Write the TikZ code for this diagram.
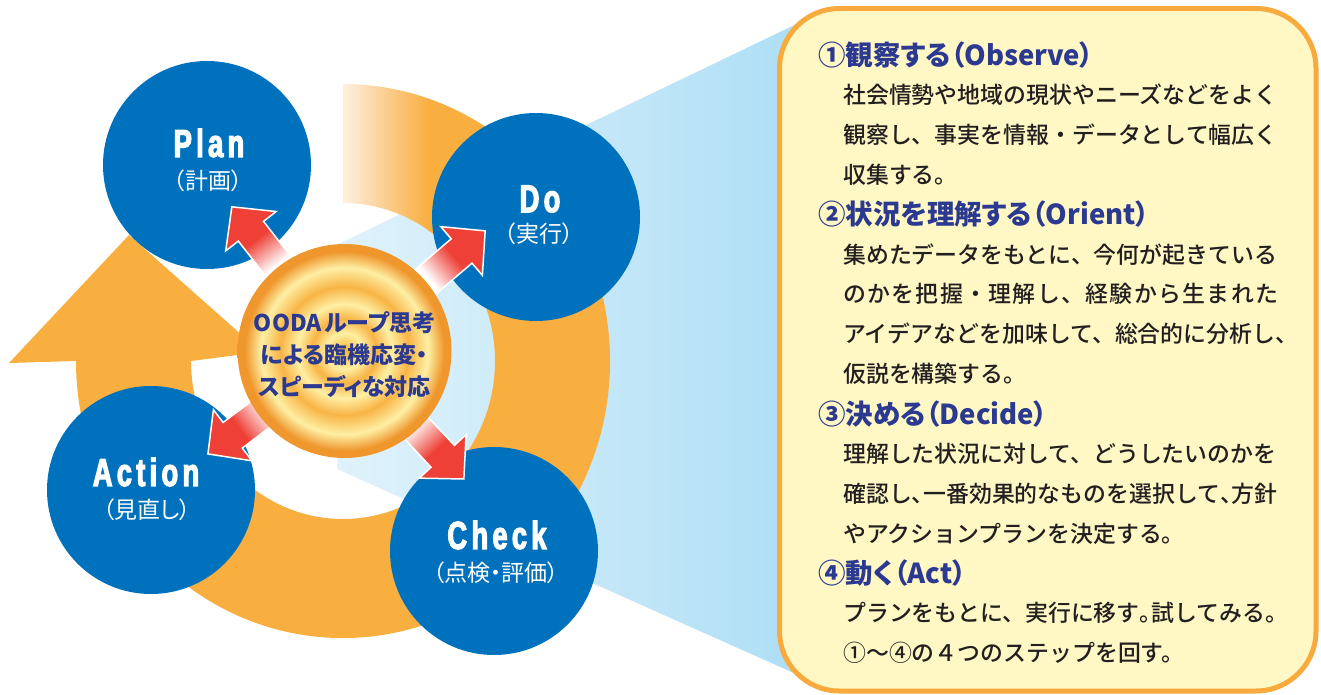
\documentclass[tikz,border=0pt]{standalone}
\usepackage{fontspec}
\usetikzlibrary{calc}
\newfontfamily\jpp[RawFeature=+palt]{Noto Sans CJK JP}
\newfontfamily\jpm{Noto Sans CJK JP Medium}
\newfontfamily\jpmwide[LetterSpace=5.9]{Noto Sans CJK JP Medium}
\newfontfamily\cond[FakeStretch=0.70,LetterSpace=11,FakeBold=3]{Liberation Sans}
\newcommand\hw[1]{\makebox[0.5em][l]{#1}}
\definecolor{cblue}{HTML}{0071BC}
\definecolor{ring}{HTML}{F9AE40}
\definecolor{ringL1}{HTML}{FEF0E0}
\definecolor{ringL2}{HTML}{FBD39A}
\definecolor{ared}{HTML}{EE4036}
\definecolor{lbA}{HTML}{E0F2FB}
\definecolor{lbM}{HTML}{CDEBF9}
\definecolor{lbB}{HTML}{ADDEF5}
\definecolor{navy}{HTML}{2B3990}
\definecolor{txt}{HTML}{231F20}
\definecolor{boxfill}{HTML}{FFF8C5}
\definecolor{boxline}{HTML}{F9AA3C}
\definecolor{coreA}{HTML}{F8B62E}
\definecolor{paleY}{HTML}{FEEFA4}
\definecolor{midO}{HTML}{F8B445}
\definecolor{edgeO}{HTML}{EF962C}
\pgfdeclareradialshading{ripple}{\pgfpoint{0bp}{0bp}}{color(0bp)=(coreA); color(4.2bp)=(paleY); color(7.5bp)=(midO); color(11bp)=(paleY); color(15bp)=(midO); color(19.5bp)=(paleY); color(23.3bp)=(edgeO); color(25bp)=(edgeO); color(50bp)=(edgeO)}
\pgfdeclarehorizontalshading{arrowfade}{100bp}{color(0bp)=(white); color(42bp)=(white); color(57bp)=(ared); color(100bp)=(ared)}
\pgfdeclarehorizontalshading{ringfade}{100bp}{color(0bp)=(ringL1); color(25bp)=(ringL1); color(37bp)=(ringL2); color(53bp)=(ring); color(100bp)=(ring)}
\pgfdeclarehorizontalshading{wedgeshade}{100bp}{color(0bp)=(lbA); color(25bp)=(lbA); color(45bp)=(lbM); color(75bp)=(lbB); color(100bp)=(lbB)}
\tikzset{
  bluec/.style={circle,fill=cblue,minimum size=208pt,inner sep=0pt},
  en/.style={text=white,inner sep=0pt,font=\cond\bfseries\fontsize{39}{39}\selectfont},
  ja/.style={text=white,inner sep=0pt,font=\jpp\fontsize{23}{23}\selectfont},
  ttl/.style={anchor=west,inner sep=0pt,text=navy,font=\jpp\bfseries\fontsize{27.5}{27.5}\selectfont},
  body/.style={anchor=west,inner sep=0pt,text=txt,font=\jpm\fontsize{22.9}{22.9}\selectfont},
  arrowshape/.style={shade,shading=arrowfade,draw=white,line width=1.5pt,line join=miter}
}
\begin{document}
\begin{tikzpicture}[x=1pt,y=1pt]
\useasboundingbox (0,0) rectangle (1321,-695);
\fill[white] (0,0) rectangle (1321,-695);
% light blue wedge
\shade[shading=wedgeshade] (332,-247) -- (805,-20) -- (805,-678) -- (337,-469) -- (344.5,-351) -- cycle;
% orange ring with arrow
\coordinate (C) at (343,-361);
\fill[ring] ($(C)+(56:267pt and 277pt)$) arc[start angle=56,end angle=-180,x radius=267pt,y radius=277pt]
  -- (9,-363) -- (129,-235) -- (261,-352)
  -- ($(C)+(180:152pt and 158pt)$) arc[start angle=180,end angle=416,x radius=152pt,y radius=158pt] -- cycle;
\shade[shading=ringfade] ($(C)+(90:267pt and 277pt)$) arc[start angle=90,end angle=55,x radius=267pt,y radius=277pt]
  -- ($(C)+(55:152pt and 158pt)$) arc[start angle=55,end angle=90,x radius=152pt,y radius=158pt] -- cycle;
% blue circles
\node[bluec] (plan) at (207,-165) {};
\node[bluec] (do) at (536,-217) {};
\node[bluec] (action) at (151,-490) {};
\node[bluec] (check) at (494,-551) {};
% red arrows
\foreach \ang/\d in {128/183, 40.5/185, 217/171, -47/175}{
  \begin{scope}[transform canvas={shift={(344.5pt,-351pt)},rotate=\ang}]
    \path[arrowshape] (\d-112,16) -- (\d-31,16) -- (\d-31,32) -- (\d,0) -- (\d-31,-32) -- (\d-31,-16) -- (\d-112,-16) -- cycle;
  \end{scope}
}
% center circle
\node[circle,minimum size=214pt,inner sep=0pt,shade,shading=ripple] (core) at (344.5,-351) {};
\node[align=center,text=navy,inner sep=0pt,font=\jpp\bfseries\fontsize{23}{32}\selectfont] (coretext) at (344.5,-355) {OODA\hspace{0.12em}ループ思考\\による臨機応変・\\スピーディな対応};
% circle labels
\node[en] (planen) at (209,-143) {Plan};
\node[ja] (planja) at (208,-181) {（計画）};
\node[en] (doen) at (540,-199) {Do};
\node[ja] (doja) at (539,-234) {（実行）};
\node[en] (actionen) at (146,-472) {Action};
\node[ja] (actionja) at (147,-510) {（見直し）};
\node[en] (checken) at (497,-535) {Check};
\node[ja] (checkja) at (496,-573) {（点検・評価）};
% text box
\draw[boxline,line width=5pt,fill=boxfill,rounded corners=60pt] (779.5,-8.5) rectangle (1316,-691);
\node[ttl] (t1) at (818,-55) {①観察する（Observe）};
\node[body] (b1) at (843,-94.9) {社会情勢や地域の現状やニーズなどをよく};
\node[body] (b2) at (843,-134.7) {観察し、事実を情報・データとして幅広く};
\node[body] (b3) at (843,-174.6) {収集する。};
\node[ttl] (t2) at (818,-214.5) {②状況を理解する（Orient）};
\node[body] (b4) at (843,-254.4) {集めたデータをもとに、今何が起きている};
\node[body,font=\jpmwide\fontsize{22.9}{22.9}\selectfont] (b5) at (843,-294.2) {のかを把握・理解し、経験から生まれた};
\node[body] (b6) at (843,-334.1) {アイデアなどを加味して、総合的に分析し、};
\node[body] (b7) at (843,-374) {仮説を構築する。};
\node[ttl] (t3) at (818,-413.8) {③決める（Decide）};
\node[body] (b8) at (843,-453.7) {理解した状況に対して、どうしたいのかを};
\node[body] (b9) at (843,-493.6) {確認し\hw{、}一番効果的なものを選択して\hw{、}方針};
\node[body] (b10) at (843,-533.4) {やアクションプランを決定する。};
\node[ttl] (t4) at (818,-573.3) {④動く（Act）};
\node[body] (b11) at (843,-613.2) {プランをもとに、実行に移す\hw{。}試してみる。};
\node[body] (b12) at (843,-653) {①〜④の４つのステップを回す。};
\end{tikzpicture}
\end{document}
